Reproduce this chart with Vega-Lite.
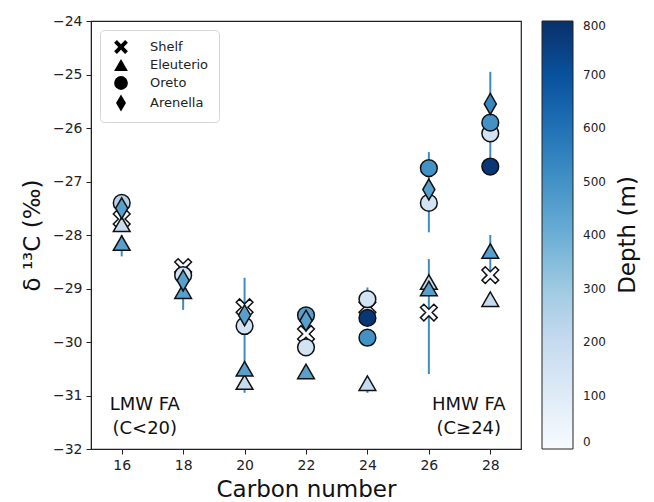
{
  "$schema": "https://vega.github.io/schema/vega-lite/v6.json",
  "width": 430,
  "height": 428,
  "padding": {"left": 21, "top": 14, "right": 2, "bottom": 2},
  "background": "white",
  "title": {"text": "Depth (m)", "orient": "right", "angle": 270, "anchor": "middle", "frame": "group", "fontSize": 23, "fontWeight": "normal", "font": "DejaVu Sans", "color": "#111", "offset": -12},
  "config": {
    "font": "DejaVu Sans",
    "view": {"stroke": "#222", "strokeWidth": 1.2},
    "axis": {"grid": false, "labelFont": "DejaVu Sans", "titleFont": "DejaVu Sans", "labelFontSize": 14, "labelColor": "#222", "titleColor": "#111", "titleFontWeight": "normal", "titleFontSize": 23, "tickColor": "#222", "domainColor": "#222", "tickSize": 5, "labelPadding": 4}
  },
  "datasets": {
    "pts": [
      {"C": 16, "d13C": -27.7, "site": "Shelf", "depth": 0},
      {"C": 16, "d13C": -27.8, "site": "Eleuterio", "depth": 200},
      {"C": 16, "d13C": -28.15, "site": "Eleuterio", "depth": 450},
      {"C": 16, "d13C": -27.4, "site": "Oreto", "depth": 250},
      {"C": 16, "d13C": -27.5, "site": "Arenella", "depth": 450},
      {"C": 18, "d13C": -28.6, "site": "Shelf", "depth": 0},
      {"C": 18, "d13C": -29.05, "site": "Eleuterio", "depth": 450},
      {"C": 18, "d13C": -28.75, "site": "Oreto", "depth": 150},
      {"C": 18, "d13C": -28.85, "site": "Arenella", "depth": 450},
      {"C": 20, "d13C": -29.35, "site": "Shelf", "depth": 0},
      {"C": 20, "d13C": -30.75, "site": "Eleuterio", "depth": 200},
      {"C": 20, "d13C": -30.5, "site": "Eleuterio", "depth": 450},
      {"C": 20, "d13C": -29.7, "site": "Oreto", "depth": 150},
      {"C": 20, "d13C": -29.5, "site": "Arenella", "depth": 450},
      {"C": 22, "d13C": -29.85, "site": "Shelf", "depth": 0},
      {"C": 22, "d13C": -30.55, "site": "Eleuterio", "depth": 450},
      {"C": 22, "d13C": -30.1, "site": "Oreto", "depth": 150},
      {"C": 22, "d13C": -29.5, "site": "Oreto", "depth": 450},
      {"C": 22, "d13C": -29.6, "site": "Arenella", "depth": 450},
      {"C": 24, "d13C": -29.35, "site": "Shelf", "depth": 0},
      {"C": 24, "d13C": -30.77, "site": "Eleuterio", "depth": 200},
      {"C": 24, "d13C": -29.2, "site": "Oreto", "depth": 150},
      {"C": 24, "d13C": -29.92, "site": "Oreto", "depth": 500},
      {"C": 24, "d13C": -29.55, "site": "Oreto", "depth": 780},
      {"C": 26, "d13C": -29.45, "site": "Shelf", "depth": 0},
      {"C": 26, "d13C": -28.88, "site": "Eleuterio", "depth": 200},
      {"C": 26, "d13C": -29.0, "site": "Eleuterio", "depth": 450},
      {"C": 26, "d13C": -27.4, "site": "Oreto", "depth": 150},
      {"C": 26, "d13C": -26.75, "site": "Oreto", "depth": 500},
      {"C": 26, "d13C": -27.15, "site": "Arenella", "depth": 450},
      {"C": 28, "d13C": -28.75, "site": "Shelf", "depth": 0},
      {"C": 28, "d13C": -29.2, "site": "Eleuterio", "depth": 200},
      {"C": 28, "d13C": -28.3, "site": "Eleuterio", "depth": 450},
      {"C": 28, "d13C": -26.1, "site": "Oreto", "depth": 150},
      {"C": 28, "d13C": -25.9, "site": "Oreto", "depth": 500},
      {"C": 28, "d13C": -26.72, "site": "Oreto", "depth": 780},
      {"C": 28, "d13C": -25.55, "site": "Arenella", "depth": 530}
    ],
    "err": [
      {"C": 16, "lo": -28.4, "hi": -28.0},
      {"C": 18, "lo": -29.4, "hi": -28.8},
      {"C": 20, "lo": -30.95, "hi": -28.8},
      {"C": 24, "lo": -29.5, "hi": -28.98},
      {"C": 24, "lo": -30.95, "hi": -30.65},
      {"C": 26, "lo": -27.95, "hi": -26.45},
      {"C": 26, "lo": -30.6, "hi": -28.45},
      {"C": 28, "lo": -26.7, "hi": -24.95},
      {"C": 28, "lo": -28.75, "hi": -28.0}
    ],
    "notes": [
      {"C": 16.75, "y": -31.18, "label": "LMW FA"},
      {"C": 16.75, "y": -31.63, "label": "(C<20)"},
      {"C": 27.3, "y": -31.18, "label": "HMW FA"},
      {"C": 27.3, "y": -31.63, "label": "(C≥24)"}
    ]
  },
  "layer": [
    {
      "data": {"name": "err"},
      "mark": {"type": "rule", "color": "#3f8cc3", "strokeWidth": 2},
      "encoding": {
        "x": {"field": "C", "type": "quantitative", "scale": {"domain": [15, 29], "nice": false, "zero": false}, "axis": {"values": [16, 18, 20, 22, 24, 26, 28], "title": "Carbon number", "titlePadding": 6}},
        "y": {"field": "lo", "type": "quantitative", "scale": {"domain": [-32, -24], "nice": false, "zero": false}, "axis": {"values": [-32, -31, -30, -29, -28, -27, -26, -25, -24], "labelExpr": "replace(datum.label, '-', '−')", "title": "δ ¹³C (‰)", "titlePadding": 8}},
        "y2": {"field": "hi"}
      }
    },
    {
      "data": {"name": "pts"},
      "mark": {"type": "point", "filled": true, "opacity": 1, "stroke": "#111", "strokeWidth": 1.5, "size": 280},
      "encoding": {
        "x": {"field": "C", "type": "quantitative"},
        "y": {"field": "d13C", "type": "quantitative"},
        "shape": {
          "field": "site", "type": "nominal",
          "scale": {"domain": ["Shelf", "Eleuterio", "Oreto", "Arenella"],
                    "range": ["M-1,-0.6L-0.6,-1L0,-0.4L0.6,-1L1,-0.6L0.4,0L1,0.6L0.6,1L0,0.4L-0.6,1L-1,0.6L-0.4,0Z", "triangle-up", "circle", "M0,-1.25L0.72,0L0,1.25L-0.72,0Z"]},
          "legend": {"orient": "top-left", "offset": 9, "title": null, "symbolFillColor": "black", "symbolStrokeColor": "black", "symbolStrokeWidth": 0, "symbolSize": 190, "labelFontSize": 13, "labelColor": "#222", "labelFont": "DejaVu Sans", "rowPadding": 4, "padding": 10, "strokeColor": "#d5d5d5", "fillColor": "white", "cornerRadius": 4, "symbolOffset": 4, "labelOffset": 22}
        },
        "fill": {
          "field": "depth", "type": "quantitative",
          "scale": {"domain": [0, 100, 200, 300, 400, 500, 600, 700, 800], "range": ["#f7fbff", "#deebf7", "#c6dbef", "#9ecae1", "#6baed6", "#4292c6", "#2171b5", "#08519c", "#08306b"]},
          "legend": {"type": "gradient", "orient": "right", "offset": 21, "direction": "vertical", "gradientLength": 428, "gradientThickness": 31, "gradientStrokeColor": "#222", "gradientStrokeWidth": 1, "values": [0, 100, 200, 300, 400, 500, 600, 700, 800], "labelFontSize": 12, "labelColor": "#222", "labelOffset": 10, "title": null}
        }
      }
    },
    {
      "data": {"name": "notes"},
      "mark": {"type": "text", "fontSize": 18, "color": "#111", "font": "DejaVu Sans"},
      "encoding": {
        "x": {"field": "C", "type": "quantitative"},
        "y": {"field": "y", "type": "quantitative"},
        "text": {"field": "label"}
      }
    }
  ]
}
